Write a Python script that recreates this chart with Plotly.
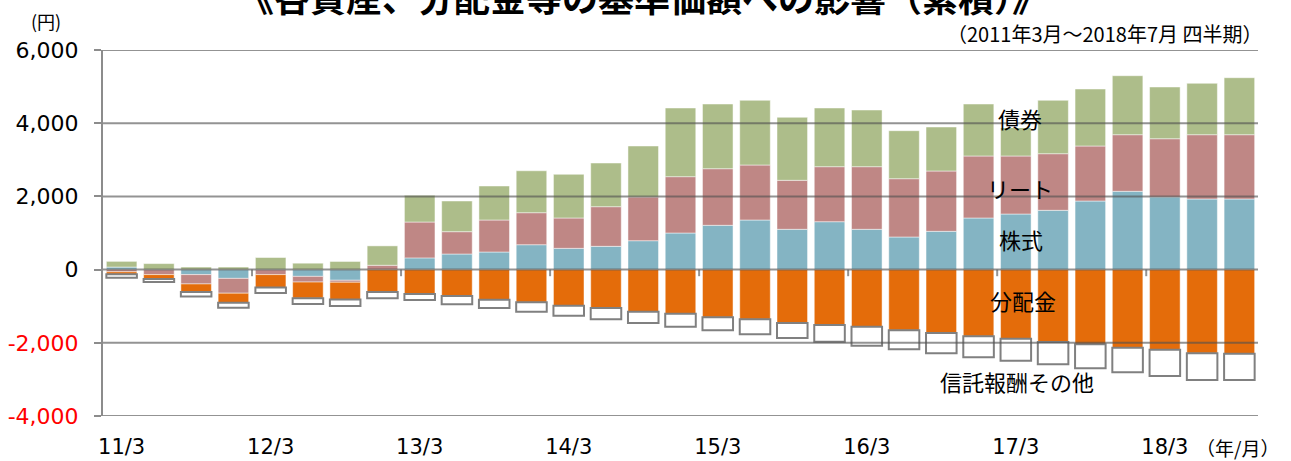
import plotly.graph_objects as go

# Quarterly periods (year/month)
periods = [
    "11/3", "11/6", "11/9", "11/12",
    "12/3", "12/6", "12/9", "12/12",
    "13/3", "13/6", "13/9", "13/12",
    "14/3", "14/6", "14/9", "14/12",
    "15/3", "15/6", "15/9", "15/12",
    "16/3", "16/6", "16/9", "16/12",
    "17/3", "17/6", "17/9", "17/12",
    "18/3", "18/6", "18/7",
]

# Cumulative contribution to NAV (yen)
stocks = [70, 0, -137, -240, 0, -185, -291, 0, 320, 426, 481, 680, 581, 636, 790, 1000,
          1210, 1355, 1101, 1309, 1101, 891, 1046, 1410, 1519, 1620, 1874, 2139, 1983, 1929, 1929]
reit = [-60, -137, -255, -405, -137, -155, -55, 118, 980, 610, 874, 875, 829, 1083, 1193, 1539,
        1547, 1503, 1339, 1503, 1711, 1593, 1648, 1694, 1585, 1547, 1503, 1547, 1593, 1757, 1757]
bonds = [155, 164, 70, 70, 330, 175, 222, 530, 730, 838, 929, 1145, 1193, 1193, 1394, 1876,
         1767, 1767, 1720, 1603, 1548, 1311, 1202, 1420, 1476, 1458, 1557, 1611, 1413, 1403, 1557]
dividends = [-70, -118, -218, -264, -355, -440, -474, -610, -665, -721, -822, -894, -986, -1049,
             -1150, -1205, -1303, -1358, -1459, -1514, -1560, -1658, -1732, -1823, -1888, -1978,
             -2041, -2134, -2188, -2287, -2298]
fees = [-90, -85, -125, -136, -145, -160, -173, -172, -165, -228, -227, -256, -273, -309, -309,
        -355, -355, -410, -410, -456, -519, -520, -555, -573, -601, -610, -656, -672, -719, -729, -718]

tick_labels = ["11/3", "12/3", "13/3", "14/3", "15/3", "16/3", "17/3", "18/3"]
y_ticks = [-4000, -2000, 0, 2000, 4000, 6000]
y_tick_text = ["-4,000", "-2,000", "0", "2,000", "4,000", "6,000"]

NUM_FONT = "DejaVu Sans, Verdana, sans-serif"
JP_FONT = "Noto Sans CJK JP, sans-serif"
GRID = "rgba(80,80,80,0.62)"

series = [
    ("株式", stocks, "#84b4c3"),
    ("リート", reit, "#bf8785"),
    ("債券", bonds, "#adbd8a"),
    ("分配金", dividends, "#e46c0a"),
]

fig = go.Figure()
for name, vals, color in series:
    fig.add_trace(go.Bar(
        x=periods, y=vals, name=name,
        marker=dict(color=color, line=dict(color="rgba(255,255,255,0.6)", width=0.8)),
    ))
fig.add_trace(go.Bar(
    x=periods, y=fees, name="信託報酬その他",
    marker=dict(color="white", line=dict(color="#808080", width=2)),
))

# negative tick labels in red
ticktext = [f"<span style='color:#ff0000'>{t}</span>" if v < 0 else t
            for v, t in zip(y_ticks, y_tick_text)]

shapes = []
# white box behind the 債券 label
shapes.append(dict(type="rect", xref="x", yref="y", x0=23.45, x1=24.55, y0=3870, y1=4800,
                   fillcolor="white", line=dict(width=0), layer="above"))
# horizontal gridlines drawn over the bars
for v in y_ticks:
    shapes.append(dict(type="line", xref="paper", yref="y", x0=0, x1=1, y0=v, y1=v,
                       line=dict(color=GRID, width=2), layer="above"))
# short year-boundary ticks hanging from the zero line
for t in tick_labels[1:]:
    b = periods.index(t) - 0.5
    shapes.append(dict(type="line", xref="x", yref="y", x0=b, x1=b, y0=0, y1=-180,
                       line=dict(color=GRID, width=2), layer="above"))

def paper_y(px):
    return (416 - px) / 366

def paper_x(px):
    return (px - 103) / 1155

annotations = [
    dict(text="<b>《各資産、分配金等の基準価額への影響（累積）》</b>", xref="paper", yref="paper",
         x=paper_x(643), y=paper_y(-4), showarrow=False, xanchor="center", yanchor="middle",
         font=dict(family=JP_FONT, size=36, color="black")),
    dict(text="(円)", xref="paper", yref="paper", x=paper_x(46), y=paper_y(21), showarrow=False,
         xanchor="center", yanchor="middle", font=dict(family=JP_FONT, size=18, color="black")),
    dict(text="（2011年3月～2018年7月 四半期）", xref="paper", yref="paper", x=paper_x(1264),
         y=paper_y(33), showarrow=False, xanchor="right", yanchor="middle",
         font=dict(family=JP_FONT, size=20, color="black")),
    dict(text="（年/月）", xref="paper", yref="paper", x=paper_x(1237), y=paper_y(447),
         showarrow=False, xanchor="center", yanchor="middle",
         font=dict(family=JP_FONT, size=19, color="black")),
]
labels = [("債券", 24.1, 4142), ("リート", 24.1, 2229), ("株式", 24.15, 836),
          ("分配金", 24.2, -831), ("信託報酬その他", 24.03, -3044)]
for text, lx, ly in labels:
    annotations.append(dict(text=text, xref="x", yref="y", x=lx, y=ly, showarrow=False,
                            xanchor="center", yanchor="middle",
                            font=dict(family=JP_FONT, size=22, color="black")))

fig.update_layout(
    barmode="relative",
    bargap=0.18,
    width=1291, height=461,
    margin=dict(l=103, r=33, t=50, b=45, autoexpand=False),
    paper_bgcolor="white", plot_bgcolor="white",
    showlegend=False,
    shapes=shapes,
    annotations=annotations,
    xaxis=dict(
        type="category", categoryorder="array", categoryarray=periods,
        range=[-0.5, len(periods) - 0.5],
        tickmode="array", tickvals=tick_labels, ticktext=tick_labels,
        ticks="outside", ticklen=12, tickcolor="rgba(0,0,0,0)",
        tickfont=dict(family=NUM_FONT, size=21, color="black"),
        showgrid=False, showline=False, zeroline=False, automargin=False,
    ),
    yaxis=dict(
        range=[-4000, 6000],
        tickmode="array", tickvals=y_ticks, ticktext=ticktext,
        ticks="outside", ticklen=7, tickwidth=2, tickcolor="#8c8c8c",
        ticklabelstandoff=11,
        tickfont=dict(family=NUM_FONT, size=22, color="black"),
        showgrid=False, zeroline=False, automargin=False,
        showline=True, linecolor="#8c8c8c", linewidth=2,
    ),
)

fig.write_html("out.html")
